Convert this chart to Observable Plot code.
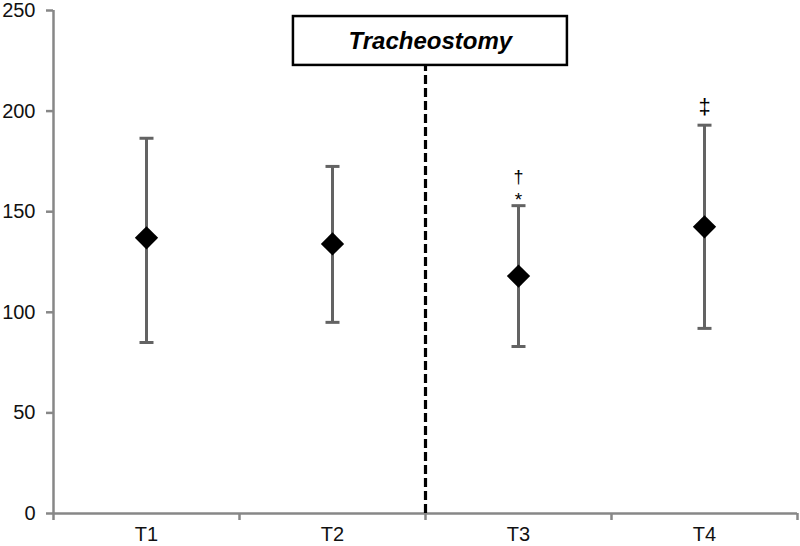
<!DOCTYPE html>
<html>
<head>
<meta charset="utf-8">
<script src="https://cdn.jsdelivr.net/npm/d3@7"></script>
<script src="https://cdn.jsdelivr.net/npm/@observablehq/plot@0.6"></script>
<style>
  html, body { margin: 0; padding: 0; background: #fff; }
</style>
</head>
<body>
<div id="chart"></div>
<script>
const categories = ["T1", "T2", "T3", "T4"];
const means = [137, 134, 118, 142.5];
const upper = [186.5, 172.5, 153, 193];
const lower = [85, 95, 83, 92];
const marksNear = ["", "", "*", "‡"];
const marksFar = ["", "", "†", ""];
const yTicks = [0, 50, 100, 150, 200, 250];
const eventLabel = "Tracheostomy";

const data = categories.map((c, i) => ({
  cat: c, pos: i + 0.5, mean: means[i], hi: upper[i], lo: lower[i], near: marksNear[i], far: marksFar[i]
}));

const capSymbol = {
  draw(context, size) {
    const w = 7;
    context.moveTo(-w, 0);
    context.lineTo(w, 0);
  }
};

const axisColor = "#878787";
const barColor = "#636363";
const narrow = "'Liberation Sans Narrow', 'Arial Narrow', 'Liberation Sans', Arial, sans-serif";
const regular = "'Liberation Sans', Arial, sans-serif";

const plot = Plot.plot({
  width: 800,
  height: 546,
  marginLeft: 53,
  marginRight: 3,
  marginTop: 10,
  marginBottom: 33,
  style: { fontFamily: narrow, fontSize: "20px", color: "#111" },
  x: { domain: [0, categories.length] },
  y: { domain: [0, 250] },
  marks: [
    Plot.axisY({ ticks: yTicks, tickSize: 7, tickPadding: 11, stroke: axisColor, strokeWidth: 2.5, label: null, fontSize: 20, fill: "#111" }),
    Plot.axisX({ ticks: d3.range(0, categories.length + 1), tickSize: 7, tickFormat: () => "", stroke: axisColor, strokeWidth: 2.5, label: null }),
    Plot.axisX({ ticks: data.map(d => d.pos), tickSize: 0, tickPadding: 13, tickFormat: (v) => categories[Math.floor(v)], label: null, fontSize: 20, fill: "#111" }),
    Plot.ruleX([0], { stroke: axisColor, strokeWidth: 2.5 }),
    Plot.ruleY([0], { stroke: axisColor, strokeWidth: 2.5 }),
    // event marker: dashed line and boxed label
    Plot.ruleX([2], { y1: 0, y2: 222.7, stroke: "#000", strokeWidth: 3.2, strokeDasharray: "9,4" }),
    Plot.rect([{ x1: 1.29, x2: 2.763, y1: 222.7, y2: 247 }], { x1: "x1", x2: "x2", y1: "y1", y2: "y2", fill: "#fff", stroke: "#000", strokeWidth: 2.5 }),
    Plot.text([eventLabel], { x: 2.026, y: 234.85, text: d => d, fontSize: 24, fontWeight: "bold", fontStyle: "italic", fill: "#000", fontFamily: regular }),
    // error bars
    Plot.ruleX(data, { x: "pos", y1: "lo", y2: "hi", stroke: barColor, strokeWidth: 3 }),
    Plot.dot(data, { x: "pos", y: "hi", symbol: capSymbol, stroke: barColor, strokeWidth: 3, r: 5 }),
    Plot.dot(data, { x: "pos", y: "lo", symbol: capSymbol, stroke: barColor, strokeWidth: 3, r: 5 }),
    // means
    Plot.dot(data, { x: "pos", y: "mean", symbol: "diamond2", r: 10.5, fill: "#000", stroke: null }),
    // significance marks
    Plot.text(data.filter(d => d.near === "*"), { x: "pos", y: "hi", text: "near", lineAnchor: "bottom", dy: 0, fontSize: 19, fill: "#000", fontFamily: regular }),
    Plot.text(data.filter(d => d.near === "‡"), { x: "pos", y: "hi", text: "near", lineAnchor: "bottom", dy: -11, fontSize: 22, fill: "#000", fontFamily: regular }),
    Plot.text(data.filter(d => d.far), { x: "pos", y: "hi", text: "far", lineAnchor: "bottom", dy: -23, fontSize: 18, fill: "#000", fontFamily: regular })
  ]
});
document.getElementById("chart").appendChild(plot);
</script>
</body>
</html>
